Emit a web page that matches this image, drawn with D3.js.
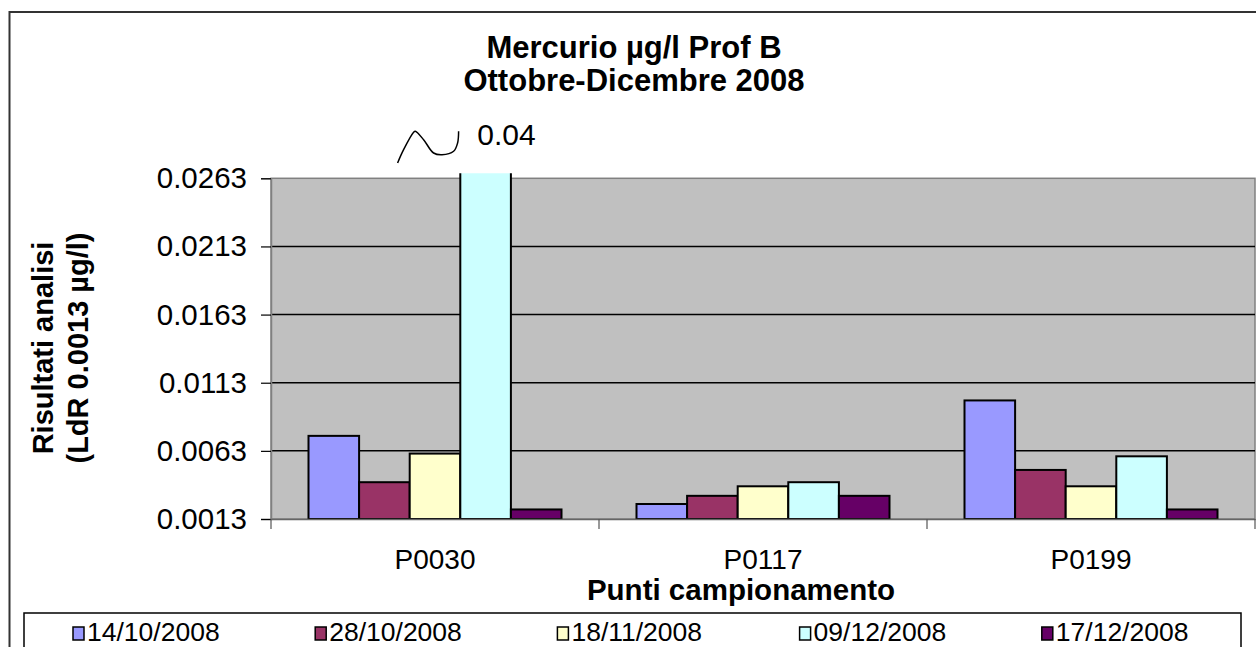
<!DOCTYPE html>
<html>
<head>
<meta charset="utf-8">
<script src="https://cdn.jsdelivr.net/npm/d3@7/dist/d3.min.js"></script>
<style>
  html, body { margin: 0; padding: 0; background: #fff; }
  svg { display: block; font-family: "Liberation Sans", Arial, sans-serif; }
</style>
</head>
<body>
<svg id="chart" width="1256" height="647"></svg>
<script>
// ---- data ----
const categories = ["P0030", "P0117", "P0199"];
const seriesNames = ["14/10/2008", "28/10/2008", "18/11/2008", "09/12/2008", "17/12/2008"];
const values_14_10 = [0.0074, 0.0024, 0.0100];
const values_28_10 = [0.0040, 0.0030, 0.0049];
const values_18_11 = [0.0061, 0.0037, 0.0037];
const values_09_12 = [0.04, 0.0040, 0.0059];
const values_17_12 = [0.0020, 0.0030, 0.0020];
const seriesColors = ["#9999FF", "#993366", "#FFFFCC", "#CCFFFF", "#660066"];
const yTicks = [0.0013, 0.0063, 0.0113, 0.0163, 0.0213, 0.0263];
const yTickLabels = ["0.0013", "0.0063", "0.0113", "0.0163", "0.0213", "0.0263"];
const titleLines = ["Mercurio µg/l Prof B", "Ottobre-Dicembre 2008"];
const yTitleLines = ["Risultati analisi", "(LdR 0.0013 µg/l)"];
const xTitle = "Punti campionamento";
const breakLabel = "0.04";

const allSeries = [values_14_10, values_28_10, values_18_11, values_09_12, values_17_12];

// ---- layout ----
const svg = d3.select("#chart");
const plot = { left: 271, right: 1255, top: 178.3, bottom: 519 };

// outer chart border
svg.append("rect").attr("x", 9.5).attr("y", 12).attr("width", 1300).attr("height", 700)
  .attr("fill", "#fff").attr("stroke", "#333").attr("stroke-width", 2);

const x0 = d3.scaleBand().domain(categories).range([plot.left, plot.right]).padding(0);
const x1 = d3.scaleBand().domain(seriesNames)
  .range([37.5, x0.bandwidth() - 37.5]).padding(0);
const y = d3.scaleLinear().domain([0.0013, 0.0263]).range([plot.bottom, plot.top]);

// plot area background
svg.append("rect")
  .attr("x", plot.left).attr("y", plot.top)
  .attr("width", plot.right - plot.left).attr("height", plot.bottom - plot.top)
  .attr("fill", "#C0C0C0").attr("stroke", "#808080").attr("stroke-width", 1.5);

// gridlines
svg.append("g").selectAll("line")
  .data(yTicks.slice(1, -1))
  .join("line")
  .attr("x1", plot.left).attr("x2", plot.right)
  .attr("y1", d => y(d)).attr("y2", d => y(d))
  .attr("stroke", "#000").attr("stroke-width", 1.5);

// bars (clipped a little above the plot top, as in the reference)
svg.append("defs").append("clipPath").attr("id", "clip")
  .append("rect").attr("x", plot.left).attr("y", plot.top - 5)
  .attr("width", plot.right - plot.left).attr("height", plot.bottom - plot.top + 5);

const barsG = svg.append("g").attr("clip-path", "url(#clip)");
categories.forEach((c, ci) => {
  seriesNames.forEach((s, si) => {
    const v = allSeries[si][ci];
    const yTop = Math.max(y(v), plot.top - 10);
    barsG.append("rect")
      .attr("x", x0(c) + x1(s))
      .attr("y", yTop)
      .attr("width", x1.bandwidth())
      .attr("height", plot.bottom - yTop)
      .attr("fill", seriesColors[si])
      .attr("stroke", "#000").attr("stroke-width", 2);
  });
});

// Y axis
const yAxis = d3.axisLeft(y).tickValues(yTicks)
  .tickFormat((d, i) => yTickLabels[i]).tickSize(10).tickPadding(14);
const yg = svg.append("g").attr("transform", `translate(${plot.left},0)`).call(yAxis);
yg.select(".domain").attr("stroke", "#808080").attr("stroke-width", 1.5);
yg.selectAll(".tick line").attr("stroke", "#000").attr("stroke-width", 1.2);
yg.selectAll(".tick text").attr("font-size", 29.5).attr("fill", "#000")
  .attr("font-family", "'Liberation Sans', Arial, sans-serif");

// X axis
const xAxis = d3.axisBottom(x0).tickSize(0).tickPadding(0).tickFormat(d => d);
const xg = svg.append("g").attr("transform", `translate(0,${plot.bottom})`).call(xAxis);
xg.select(".domain").attr("stroke", "#666").attr("stroke-width", 1.5);
xg.selectAll(".tick text").attr("font-size", 28).attr("fill", "#000")
  .attr("dy", 0).attr("y", 50)
  .attr("font-family", "'Liberation Sans', Arial, sans-serif");
// category separators
const bounds = categories.map(c => x0(c)).concat([x0(categories[categories.length - 1]) + x0.bandwidth()]);
svg.append("g").selectAll("line").data(bounds).join("line")
  .attr("x1", d => d).attr("x2", d => d)
  .attr("y1", plot.bottom).attr("y2", plot.bottom + 10)
  .attr("stroke", "#555").attr("stroke-width", 1.2);

// title
svg.append("g").selectAll("text").data(titleLines).join("text")
  .attr("x", 634).attr("y", (d, i) => 58 + i * 33)
  .attr("text-anchor", "middle").attr("font-weight", "bold").attr("font-size", 31)
  .text(d => d);

// y axis title
svg.append("g").selectAll("text").data(yTitleLines).join("text")
  .attr("transform", (d, i) => `translate(${53 + i * 35},348) rotate(-90)`)
  .attr("text-anchor", "middle").attr("font-weight", "bold").attr("font-size", 29)
  .text(d => d);

// x axis title
svg.append("text").attr("x", 741).attr("y", 600)
  .attr("text-anchor", "middle").attr("font-weight", "bold").attr("font-size", 29.5)
  .text(xTitle);

// break annotation (squiggle + value)
const breakX = x0(categories[0]) + x1(seriesNames[3]);
const squiggle = [[-62.7, -10.3], [-56.7, -23.6], [-46.7, -41], [-45, -42], [-36.7, -33.6],
  [-26.7, -20.3], [-18.3, -18.6], [-6.7, -22], [-2.7, -30.3], [-1.7, -42]];
svg.append("path")
  .attr("d", d3.line().curve(d3.curveCatmullRom)(squiggle.map(p => [breakX + p[0], plot.top + p[1] - 5])))
  .attr("fill", "none").attr("stroke", "#000").attr("stroke-width", 1.5);
svg.append("text").attr("x", breakX + 17).attr("y", plot.top - 33)
  .attr("font-size", 30).text(breakLabel);

// legend
svg.append("rect").attr("x", 24).attr("y", 613).attr("width", 1217).attr("height", 80)
  .attr("fill", "#fff").attr("stroke", "#000").attr("stroke-width", 1.5);
const lg = svg.append("g").selectAll("g").data(seriesNames).join("g")
  .attr("transform", (d, i) => `translate(${73 + i * 242.2},0)`);
lg.append("rect").attr("x", 0).attr("y", 627).attr("width", 11).attr("height", 13)
  .attr("fill", (d, i) => seriesColors[i]).attr("stroke", "#000").attr("stroke-width", 1.5);
lg.append("text").attr("x", 14).attr("y", 641).attr("font-size", 26.5).text(d => d);
</script>
</body>
</html>
